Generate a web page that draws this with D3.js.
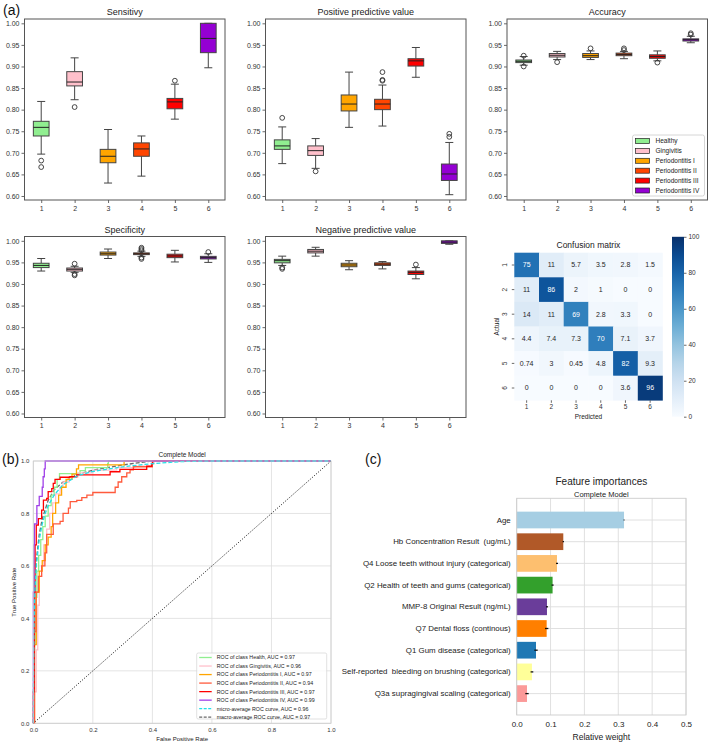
<!DOCTYPE html>
<html><head><meta charset="utf-8">
<script src="https://cdn.jsdelivr.net/npm/d3@7"></script>
<style>
body{margin:0;background:#fff}
text{font-family:"Liberation Sans",Arial,sans-serif}
</style>
</head><body><svg id="c" width="709" height="742"></svg>
<script>
// ---------------- DATA ----------------
const classes = ["Healthy","Gingivitis","Periodontitis I","Periodontitis II","Periodontitis III","Periodontitis IV"];
const classColors = ["#90ee90","#ffc0cb","#ffa500","#ff4500","#ff0000","#9400d3"];
const classTicks = ["1","2","3","4","5","6"];
const boxYTicks = [0.60,0.65,0.70,0.75,0.80,0.85,0.90,0.95,1.00];

// each: [lower whisker, q1, median, q3, upper whisker]
const sensitivityStats = [[0.697,0.739,0.759,0.773,0.819],[0.823,0.855,0.864,0.888,0.920],[0.630,0.677,0.692,0.708,0.754],[0.646,0.692,0.709,0.723,0.739],[0.778,0.802,0.818,0.826,0.859],[0.897,0.932,0.965,1.000,1.000]];
const sensitivityOutliers = [[0.682,0.667],[0.806],[],[],[0.867],[]];
const ppvStats = [[0.675,0.708,0.716,0.730,0.760],[0.664,0.694,0.705,0.716,0.733],[0.759,0.797,0.813,0.834,0.887],[0.762,0.800,0.813,0.824,0.857],[0.875,0.901,0.913,0.918,0.944],[0.603,0.636,0.651,0.674,0.724]];
const ppvOutliers = [[0.781],[0.657],[],[0.887,0.869,0.867],[],[0.744,0.737]];
const accuracyStats = [[0.903,0.909,0.912,0.915,0.923],[0.916,0.922,0.926,0.930,0.935],[0.916,0.921,0.925,0.930,0.936],[0.918,0.925,0.928,0.931,0.935],[0.913,0.919,0.923,0.927,0.936],[0.955,0.959,0.962,0.964,0.970]];
const accuracyOutliers = [[0.925,0.900],[0.910],[0.942],[0.942,0.938],[0.909],[0.977,0.974]];
const specificityStats = [[0.930,0.938,0.943,0.948,0.959],[0.927,0.930,0.934,0.937,0.941],[0.959,0.967,0.970,0.974,0.981],[0.964,0.968,0.970,0.972,0.976],[0.951,0.961,0.965,0.969,0.978],[0.950,0.958,0.961,0.964,0.970]];
const specificityOutliers = [[],[0.947,0.923,0.920],[],[0.984,0.981,0.978,0.961,0.958],[],[0.974]];
const npvStats = [[0.943,0.949,0.954,0.957,0.9645],[0.9645,0.972,0.976,0.980,0.985],[0.933,0.940,0.944,0.948,0.954],[0.935,0.943,0.946,0.949,0.952],[0.912,0.922,0.927,0.930,0.938],[0.992,0.994,0.997,1.000,1.000]];
const npvOutliers = [[0.938,0.935],[],[],[],[0.945],[]];

const confusionMatrix = [
  [75,11,5.7,3.5,2.8,1.5],
  [11,86,2,1,0,0],
  [14,11,69,2.8,3.3,0],
  [4.4,7.4,7.3,70,7.1,3.7],
  [0.74,3,0.45,4.8,82,9.3],
  [0,0,0,0,3.6,96]
];
const colorbarTicks = [0,20,40,60,80,100];

const rocTicks = [0,0.2,0.4,0.6,0.8,1.0];
const rocHealth = [[0,0],[0.002,0.3],[0.006,0.48],[0.012,0.58],[0.018,0.64],[0.025,0.7],[0.032,0.75],[0.04,0.79],[0.05,0.83],[0.06,0.87],[0.07,0.9],[0.08,0.93],[0.088,0.952],[0.157,0.963],[0.175,0.975],[0.25,0.99],[0.252,1.0],[1,1]];
const rocGingivitis = [[0,0],[0.004,0.12],[0.01,0.28],[0.015,0.45],[0.02,0.56],[0.028,0.6],[0.035,0.68],[0.045,0.74],[0.055,0.8],[0.065,0.84],[0.075,0.875],[0.09,0.9],[0.1,0.92],[0.12,0.94],[0.15,0.955],[0.2,0.965],[0.28,0.975],[0.34,0.98],[0.4,0.99],[0.405,1.0],[1,1]];
const rocPerioI = [[0,0],[0.004,0.3],[0.01,0.5],[0.02,0.58],[0.03,0.62],[0.04,0.68],[0.05,0.71],[0.06,0.75],[0.065,0.8],[0.075,0.84],[0.085,0.87],[0.095,0.9],[0.11,0.93],[0.13,0.95],[0.145,0.97],[0.152,0.985],[0.305,1.0],[1,1]];
const rocPerioII = [[0,0],[0.004,0.35],[0.009,0.5],[0.017,0.56],[0.028,0.6],[0.039,0.65],[0.045,0.72],[0.067,0.76],[0.09,0.77],[0.1,0.8],[0.118,0.82],[0.124,0.845],[0.146,0.85],[0.163,0.86],[0.18,0.87],[0.2,0.88],[0.275,0.9],[0.285,0.92],[0.297,0.94],[0.314,0.955],[0.325,0.966],[0.336,0.978],[0.4,0.99],[0.402,1.0],[1,1]];
const rocPerioIII = [[0,0],[0,0.12],[0.003,0.5],[0.006,0.68],[0.01,0.756],[0.017,0.78],[0.028,0.813],[0.034,0.851],[0.045,0.857],[0.05,0.883],[0.062,0.895],[0.067,0.915],[0.073,0.93],[0.09,0.938],[0.123,0.94],[0.146,0.947],[0.258,0.959],[0.291,0.968],[0.381,0.98],[0.398,0.99],[0.4,1.0],[1,1]];
const rocPerioIV = [[0,0],[0,0.5],[0.002,0.68],[0.004,0.76],[0.012,0.83],[0.02,0.865],[0.03,0.9],[0.033,0.94],[0.037,0.97],[0.04,1.0],[1,1]];
const rocMicro = [[0,0],[0.002,0.35],[0.005,0.5],[0.01,0.6],[0.02,0.7],[0.03,0.76],[0.04,0.8],[0.05,0.83],[0.07,0.87],[0.1,0.91],[0.15,0.945],[0.2,0.96],[0.3,0.978],[0.4,0.99],[0.5,0.998],[0.6,1.0],[1,1]];
const rocMacro = [[0,0],[0.002,0.4],[0.005,0.52],[0.01,0.62],[0.02,0.72],[0.03,0.78],[0.05,0.85],[0.07,0.89],[0.1,0.92],[0.15,0.95],[0.2,0.965],[0.3,0.985],[0.4,1.0],[1,1]];
const rocLabels = ["ROC of class Health, AUC = 0.97","ROC of class Gingivitis, AUC = 0.96","ROC of class Periodontitis I, AUC = 0.97","ROC of class Periodontitis II, AUC = 0.94","ROC of class Periodontitis III, AUC = 0.97","ROC of class Periodontitis IV, AUC = 0.99","micro-average ROC curve, AUC = 0.96","macro-average ROC curve, AUC = 0.97"];
const rocColors = ["#90ee90","#ffc0cb","#ffa500","#ff5a3c","#ff0000","#a040e8","#22e0e8","#6a6a6a"];

const features = ["Age","Hb Concentration Result  (ug/mL)","Q4 Loose teeth without injury (categorical)","Q2 Health of teeth and gums (categorical)","MMP-8 Original Result (ng/mL)","Q7 Dental floss (continous)","Q1 Gum disease (categorical)","Self-reported  bleeding on brushing (categorical)","Q3a supragingival scaling (categorical)"];
const importances = [0.317,0.1376,0.119,0.106,0.0894,0.0885,0.057,0.045,0.0304];
const importanceErr = [0.001,0.002,0.003,0.003,0.003,0.005,0.005,0.004,0.005];
const featureColors = ["#a6cee3","#b15928","#fdbf6f","#33a02c","#6a3d9a","#ff7f00","#1f78b4","#ffff99","#fb9a99"];
const importanceTicks = [0,0.1,0.2,0.3,0.4,0.5];

// ---------------- DRAW ----------------
const svg = d3.select("#c");
svg.append("rect").attr("width",709).attr("height",742).attr("fill","#fff");

function styleAxis(sel, fs, col){
  sel.select(".domain").remove();
  sel.selectAll(".tick line").attr("stroke","#444").attr("stroke-width",0.8);
  sel.selectAll(".tick text").attr("font-size",fs).attr("fill",col||"#333").attr("font-family","Liberation Sans, Arial, sans-serif");
}

function boxPanel(x0, y0, title, stats, outliers, legend){
  const w = 200.5, h = 181;
  const x = d3.scaleLinear().domain([0.5,6.5]).range([x0,x0+w]);
  const y = d3.scaleLinear().domain([0.5907,1.010]).range([y0+h,y0]);
  const g = svg.append("g");
  g.append("g").attr("transform",`translate(${x0},0)`)
    .call(d3.axisLeft(y).tickValues(boxYTicks).tickFormat(d3.format(".2f")).tickSize(3).tickPadding(2))
    .call(s=>styleAxis(s,7));
  g.append("g").attr("transform",`translate(0,${y0+h})`)
    .call(d3.axisBottom(x).tickValues([1,2,3,4,5,6]).tickFormat((d,i)=>classTicks[i]).tickSize(3).tickPadding(3))
    .call(s=>styleAxis(s,7));
  g.append("text").attr("x",x0+w/2).attr("y",y0-4).attr("text-anchor","middle").attr("font-size",9).attr("fill","#222").text(title);
  const bw = 0.47, cw = 0.24;
  stats.forEach((s,i)=>{
    const cx = x(i+1);
    const lc = "#444";
    g.append("line").attr("x1",cx).attr("x2",cx).attr("y1",y(s[0])).attr("y2",y(s[1])).attr("stroke",lc).attr("stroke-width",1);
    g.append("line").attr("x1",cx).attr("x2",cx).attr("y1",y(s[3])).attr("y2",y(s[4])).attr("stroke",lc).attr("stroke-width",1);
    [s[0],s[4]].forEach(v=>g.append("line").attr("x1",x(i+1-cw/2)).attr("x2",x(i+1+cw/2)).attr("y1",y(v)).attr("y2",y(v)).attr("stroke",lc).attr("stroke-width",1));
    g.append("rect").attr("x",x(i+1-bw/2)).attr("width",x(i+1+bw/2)-x(i+1-bw/2))
      .attr("y",y(s[3])).attr("height",Math.max(0.5,y(s[1])-y(s[3])))
      .attr("fill",classColors[i]).attr("stroke",lc).attr("stroke-width",1);
    g.append("line").attr("x1",x(i+1-bw/2)).attr("x2",x(i+1+bw/2)).attr("y1",y(s[2])).attr("y2",y(s[2])).attr("stroke","#222").attr("stroke-width",1);
    outliers[i].forEach(v=>g.append("circle").attr("cx",cx).attr("cy",y(v)).attr("r",2.4).attr("fill","none").attr("stroke","#333").attr("stroke-width",0.9));
  });
  g.append("rect").attr("x",x0).attr("y",y0).attr("width",w).attr("height",h).attr("fill","none").attr("stroke","#555").attr("stroke-width",1);
  if(legend){
    const lx = x0+125.5, ly = y0+116;
    g.append("rect").attr("x",lx).attr("y",ly).attr("width",72).attr("height",61).attr("rx",2).attr("fill","#fff").attr("fill-opacity",0.8).attr("stroke","#ccc").attr("stroke-width",0.8);
    classes.forEach((c,i)=>{
      const yy = ly+6+i*9.9;
      g.append("rect").attr("x",lx+3).attr("y",yy-2.5).attr("width",14).attr("height",5).attr("fill",classColors[i]).attr("stroke","#222").attr("stroke-width",0.7);
      g.append("text").attr("x",lx+23).attr("y",yy+2.3).attr("font-size",6.5).attr("fill","#222").text(c);
    });
  }
}

boxPanel(24.5,19,"Sensitivy",sensitivityStats,sensitivityOutliers,false);
boxPanel(265.5,19,"Positive predictive value",ppvStats,ppvOutliers,false);
boxPanel(507,19,"Accuracy",accuracyStats,accuracyOutliers,true);
boxPanel(24.5,236.5,"Specificity",specificityStats,specificityOutliers,false);
boxPanel(265.5,236.5,"Negative predictive value",npvStats,npvOutliers,false);

// panel labels
svg.append("text").attr("x",3).attr("y",15).attr("font-size",14).attr("fill","#111").text("(a)");
svg.append("text").attr("x",2).attr("y",464).attr("font-size",14).attr("fill","#111").text("(b)");
svg.append("text").attr("x",365).attr("y",464).attr("font-size",14).attr("fill","#111").text("(c)");

// ---------------- Confusion matrix ----------------
(function(){
  const cx0=514.3, cx1=662.5, cy0=252.7, cy1=400.3;
  const xb = d3.scaleBand().domain(classTicks).range([cx0,cx1]);
  const yb = d3.scaleBand().domain(classTicks).range([cy0,cy1]);
  const col = d3.scaleSequential(d3.interpolateBlues).domain([0,100]);
  const g = svg.append("g");
  confusionMatrix.forEach((row,r)=>row.forEach((v,c)=>{
    g.append("rect").attr("x",xb(classTicks[c])).attr("y",yb(classTicks[r])).attr("width",xb.bandwidth()+0.3).attr("height",yb.bandwidth()+0.3).attr("fill",col(v));
    g.append("text").attr("x",xb(classTicks[c])+xb.bandwidth()/2).attr("y",yb(classTicks[r])+yb.bandwidth()/2+2.4)
      .attr("text-anchor","middle").attr("font-size",7).attr("fill",v>50?"#fff":"#262626").text(v);
  }));
  g.append("g").attr("transform",`translate(0,${cy1})`).call(d3.axisBottom(xb).tickSize(2.5).tickPadding(2)).call(s=>styleAxis(s,6.5));
  const ya = g.append("g").attr("transform",`translate(${cx0},0)`).call(d3.axisLeft(yb).tickSize(2.5).tickPadding(2)).call(s=>styleAxis(s,6.5));
  ya.selectAll(".tick text").attr("transform","rotate(-90)").attr("text-anchor","middle").attr("x",0).attr("y",-7).attr("dy","0");
  g.append("text").attr("x",(cx0+cx1)/2).attr("y",248).attr("text-anchor","middle").attr("font-size",8.5).attr("fill","#222").text("Confusion matrix");
  g.append("text").attr("x",(cx0+cx1)/2).attr("y",419).attr("text-anchor","middle").attr("font-size",6.5).attr("fill","#222").text("Predicted");
  g.append("text").attr("transform",`translate(499,${(cy0+cy1)/2}) rotate(-90)`).attr("text-anchor","middle").attr("font-size",6.5).attr("fill","#222").text("Actual");
  // colorbar
  const bx=672, bwid=12, by0=236.8, by1=416.7;
  const cs = d3.scaleLinear().domain([0,100]).range([by1,by0]);
  const defs = svg.append("defs");
  const grad = defs.append("linearGradient").attr("id","cb").attr("x1",0).attr("x2",0).attr("y1",1).attr("y2",0);
  d3.range(0,101,10).forEach(v=>grad.append("stop").attr("offset",v+"%").attr("stop-color",col(v)));
  g.append("rect").attr("x",bx).attr("y",by0).attr("width",bwid).attr("height",by1-by0).attr("fill","url(#cb)");
  g.append("g").attr("transform",`translate(${bx+bwid},0)`).call(d3.axisRight(cs).tickValues(colorbarTicks).tickSize(2.5).tickPadding(2)).call(s=>styleAxis(s,6.5));
})();

// ---------------- ROC ----------------
(function(){
  const X0=33.3, X1=331, Y0=461, Y1=723.3;
  const x = d3.scaleLinear().domain([0,1]).range([X0,X1]);
  const y = d3.scaleLinear().domain([0,1]).range([Y1,Y0]);
  const g = svg.append("g");
  rocTicks.forEach(t=>{
    g.append("line").attr("x1",x(t)).attr("x2",x(t)).attr("y1",Y0).attr("y2",Y1).attr("stroke","#ddd").attr("stroke-width",0.8);
    g.append("line").attr("x1",X0).attr("x2",X1).attr("y1",y(t)).attr("y2",y(t)).attr("stroke","#ddd").attr("stroke-width",0.8);
  });
  g.append("g").attr("transform",`translate(${X0},0)`).call(d3.axisLeft(y).tickValues(rocTicks).tickFormat(d3.format(".1f")).tickSize(0).tickPadding(4)).call(s=>styleAxis(s,6));
  g.append("g").attr("transform",`translate(0,${Y1})`).call(d3.axisBottom(x).tickValues(rocTicks).tickFormat(d3.format(".1f")).tickSize(0).tickPadding(4)).call(s=>styleAxis(s,6));
  const clip = svg.append("defs").append("clipPath").attr("id","rocclip");
  clip.append("rect").attr("x",X0-1).attr("y",Y0-1).attr("width",X1-X0+2).attr("height",Y1-Y0+2);
  const step = d3.line().x(d=>x(d[0])).y(d=>y(d[1])).curve(d3.curveStepAfter);
  const lin = d3.line().x(d=>x(d[0])).y(d=>y(d[1]));
  const cg = g.append("g").attr("clip-path","url(#rocclip)");
  const curves = [rocHealth,rocGingivitis,rocPerioI,rocPerioII,rocPerioIII,rocPerioIV];
  cg.append("path").datum(rocMacro).attr("d",lin).attr("fill","none").attr("stroke",rocColors[7]).attr("stroke-width",1.3).attr("stroke-dasharray","4,2");
  curves.forEach((c,i)=>cg.append("path").datum(c).attr("d",step).attr("fill","none").attr("stroke",rocColors[i]).attr("stroke-width",1.3));
  cg.append("path").datum(rocMicro).attr("d",lin).attr("fill","none").attr("stroke",rocColors[6]).attr("stroke-width",1.3).attr("stroke-dasharray","4,2");
  cg.append("path").datum([[0,0],[1,1]]).attr("d",lin).attr("fill","none").attr("stroke","#111").attr("stroke-width",1).attr("stroke-dasharray","1,1.6");
  g.append("rect").attr("x",X0).attr("y",Y0).attr("width",X1-X0).attr("height",Y1-Y0).attr("fill","none").attr("stroke","#ccc").attr("stroke-width",0.8);
  g.append("text").attr("x",(X0+X1)/2).attr("y",457).attr("text-anchor","middle").attr("font-size",6.5).attr("fill","#222").text("Complete Model");
  g.append("text").attr("x",(X0+X1)/2).attr("y",741).attr("text-anchor","middle").attr("font-size",6).attr("fill","#222").text("False Positive Rate");
  g.append("text").attr("transform",`translate(16,${(Y0+Y1)/2}) rotate(-90)`).attr("text-anchor","middle").attr("font-size",6).attr("fill","#222").text("True Positive Rate");
  // legend
  const lx=196.7, ly=653;
  g.append("rect").attr("x",lx).attr("y",ly).attr("width",130).attr("height",66).attr("rx",1.5).attr("fill","#fff").attr("fill-opacity",0.8).attr("stroke","#ccc").attr("stroke-width",0.6);
  rocLabels.forEach((t,i)=>{
    const yy = ly+4.5+i*8.53;
    g.append("line").attr("x1",lx+2.5).attr("x2",lx+15).attr("y1",yy).attr("y2",yy).attr("stroke",rocColors[i]).attr("stroke-width",1.3).attr("stroke-dasharray",i>=6?"3,1.5":null);
    g.append("text").attr("x",lx+20).attr("y",yy+1.9).attr("font-size",5.3).attr("fill","#222").text(t);
  });
})();

// ---------------- Feature importances ----------------
(function(){
  const X0=516.7, X1=686, Y0=498.3, Y1=715;
  const x = d3.scaleLinear().domain([0,0.5]).range([X0,X1]);
  const yb = d3.scaleBand().domain(features).range([509.15,704.45]).paddingInner(0.23).paddingOuter(0.115);
  const g = svg.append("g");
  importanceTicks.forEach(t=>g.append("line").attr("x1",x(t)).attr("x2",x(t)).attr("y1",Y0).attr("y2",Y1).attr("stroke","#ddd").attr("stroke-width",0.9));
  features.forEach(f=>g.append("line").attr("x1",X0).attr("x2",X1).attr("y1",yb(f)+yb.bandwidth()/2).attr("y2",yb(f)+yb.bandwidth()/2).attr("stroke","#ddd").attr("stroke-width",0.9));
  features.forEach((f,i)=>{
    g.append("rect").attr("x",x(0)).attr("y",yb(f)).attr("width",x(importances[i])-x(0)).attr("height",yb.bandwidth()).attr("fill",featureColors[i]);
    const cy = yb(f)+yb.bandwidth()/2;
    g.append("line").attr("x1",x(importances[i]-importanceErr[i])).attr("x2",x(importances[i]+importanceErr[i])).attr("y1",cy).attr("y2",cy).attr("stroke","#111").attr("stroke-width",1.3);
  });
  g.append("rect").attr("x",X0).attr("y",Y0).attr("width",X1-X0).attr("height",Y1-Y0).attr("fill","none").attr("stroke","#ccc").attr("stroke-width",0.9);
  const ya = g.append("g").attr("transform",`translate(${X0},0)`).call(d3.axisLeft(yb).tickSize(0).tickPadding(6)).call(s=>styleAxis(s,7.9,"#222"));
  ya.selectAll(".tick text").style("white-space","pre");
  g.append("g").attr("transform",`translate(0,${Y1})`).call(d3.axisBottom(x).tickValues(importanceTicks).tickFormat(d3.format(".1f")).tickSize(0).tickPadding(6)).call(s=>styleAxis(s,8,"#222"));
  g.append("text").attr("x",(X0+X1)/2).attr("y",485).attr("text-anchor","middle").attr("font-size",10).attr("fill","#222").text("Feature importances");
  g.append("text").attr("x",(X0+X1)/2).attr("y",496.5).attr("text-anchor","middle").attr("font-size",7.5).attr("fill","#222").text("Complete Model");
  g.append("text").attr("x",(X0+X1)/2).attr("y",739.5).attr("text-anchor","middle").attr("font-size",8.5).attr("fill","#222").text("Relative weight");
})();
</script></body></html>
